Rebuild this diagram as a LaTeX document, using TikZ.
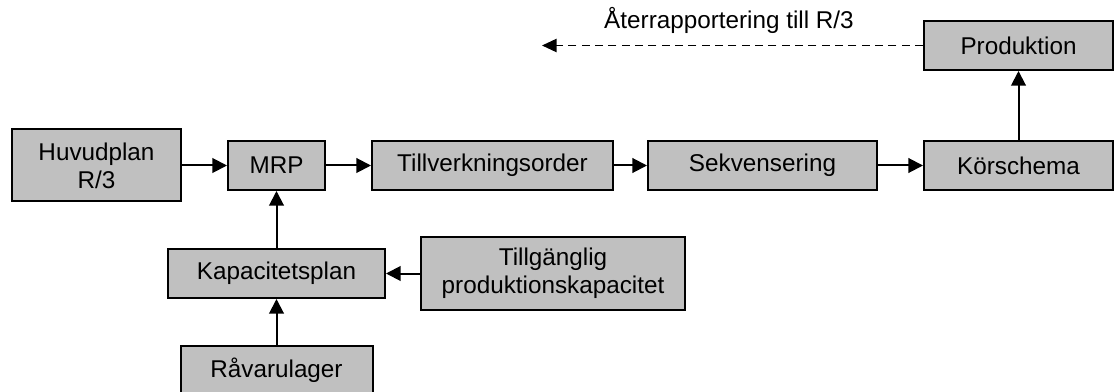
\documentclass[tikz,border=0pt]{standalone}
\usepackage{fontspec}
\setmainfont{Liberation Sans}
\usetikzlibrary{arrows.meta}
\definecolor{boxgray}{HTML}{C0C0C0}
\begin{document}
\begin{tikzpicture}[x=0.75pt,y=-0.75pt,
  box/.style={draw=black,fill=boxgray,line width=1.5pt,inner sep=0pt,
    font=\fontsize{18.2}{20.8}\selectfont,align=center,minimum height=36.75pt},
  arr/.style={line width=1.5pt,-{Triangle[length=11pt,width=11pt]}},
  darr/.style={line width=1.1pt,dash pattern=on 6pt off 4pt,-{Triangle[length=11pt,width=10pt]}}]
\useasboundingbox (0,0) rectangle (1114,392);
\node[box,minimum width=126.75pt,minimum height=54pt] (hup) at (96.5,165.5) {Huvudplan\\R/3};
\node[box,minimum width=72.75pt] (mrp) at (276.5,165.5) {MRP};
\node[box,minimum width=180.75pt] (till) at (492.5,165.5) {Tillverkningsorder};
\node[box,minimum width=171.75pt] (sek) at (762.5,165.5) {Sekvensering};
\node[box,minimum width=141.75pt] (kor) at (1018.5,165.5) {Körschema};
\node[box,minimum width=141.75pt] (prod) at (1018.5,45.5) {Produktion};
\node[box,minimum width=162.75pt] (kap) at (276.5,273.5) {Kapacitetsplan};
\node[box,minimum width=198pt,minimum height=54pt] (tg) at (553,273.5) {Tillgänglig\\produktionskapacitet};
\node[box,minimum width=144pt] (rav) at (276.5,370) {Råvarulager};
\coordinate (dend) at (542,45.5);
\node[font=\fontsize{18.2}{20.8}\selectfont,anchor=base] (lbl) at (729,29) {Återrapportering till R/3};
\draw[arr] (hup) -- (mrp);
\draw[arr] (mrp) -- (till);
\draw[arr] (till) -- (sek);
\draw[arr] (sek) -- (kor);
\draw[arr] (kor) -- (prod);
\draw[arr] (kap) -- (mrp);
\draw[arr] (tg) -- (kap);
\draw[arr] (rav) -- (kap);
\draw[darr] (prod.west) -- (dend);
\end{tikzpicture}
\end{document}
